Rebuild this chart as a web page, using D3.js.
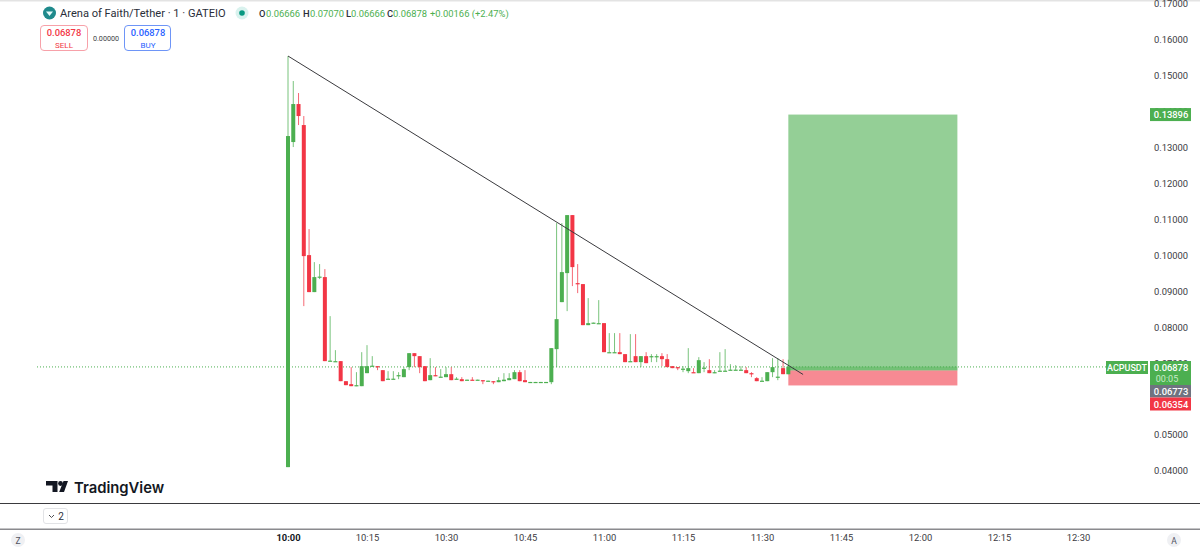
<!DOCTYPE html>
<html><head><meta charset="utf-8">
<script src="https://cdn.jsdelivr.net/npm/d3@7/dist/d3.min.js"></script>
<style>html,body{margin:0;padding:0;background:#fff;overflow:hidden}svg{display:block}text{font-family:Roboto,sans-serif}</style>
</head><body><svg id="c" width="1200" height="552"></svg>
<script>
const opens=[.0408,.13131,.14189,.13604,.09983,.08953,.09371,.09371,.07031,.07017,.07031,.06473,.0639,.06334,.06334,.06696,.06891,.06891,.0678,.06529,.06529,.06613,.06585,.06864,.07253,.0717,.06891,.06501,.06641,.06585,.06585,.06668,.06529,.06529,.06501,.06515,.06501,.06501,.06473,.06473,.06445,.06473,.06501,.06529,.06724,.06501,.06445,.06445,.06445,.06445,.06445,.07365,.08674,.09482,.11097,.09203,.09176,.08033,.08089,.08075,.08089,.07267,.07267,.07281,.07226,.07017,.0717,.07003,.0717,.07156,.07156,.0717,.07086,.06891,.06864,.06808,.06752,.06724,.06696,.06836,.0678,.06696,.06752,.06752,.0678,.0678,.0678,.0678,.06696,.06557,.06473,.06473,.06724,.06585,.06836,.06666];
const highs=[.15526,.1483,.14496,.13855,.10708,.09788,.09733,.09593,.08284,.07337,.07031,.06473,.06864,.06724,.07281,.07476,.0717,.06891,.0678,.06752,.06752,.06724,.06864,.07253,.07253,.0717,.06891,.07114,.06864,.06808,.06864,.06864,.06585,.06585,.06515,.06585,.06515,.06501,.06487,.06473,.06585,.06696,.06696,.0678,.0678,.0678,.06452,.06452,.06452,.06452,.07393,.10875,.10875,.11097,.11097,.09733,.09176,.08786,.08103,.0873,.08089,.07811,.07811,.07811,.07226,.07783,.07783,.0717,.07281,.07226,.07226,.07253,.07226,.06891,.06864,.06891,.07393,.06836,.07142,.07003,.07086,.0678,.07281,.07365,.06947,.06919,.06891,.06864,.06724,.06585,.06585,.06724,.07114,.07114,.07086,.0707];
const lows=[.0408,.12992,.13604,.08563,.08953,.08953,.09315,.07031,.07031,.07017,.06473,.06362,.06334,.06334,.06334,.06696,.06891,.0678,.06473,.06529,.06529,.06529,.06585,.0678,.06864,.06696,.06473,.06501,.06613,.06585,.06585,.06501,.06529,.06473,.06501,.06501,.06501,.0639,.06473,.0639,.06445,.06473,.06501,.06529,.06473,.06445,.06445,.06445,.06445,.06445,.0639,.06864,.08674,.08423,.0912,.08925,.08033,.08033,.08089,.08075,.07281,.07267,.07267,.07226,.07003,.07017,.07003,.06864,.06975,.07003,.07003,.06891,.06864,.06836,.0678,.06724,.06696,.0671,.06696,.06724,.06696,.06696,.06752,.06752,.0678,.0678,.0678,.06696,.06585,.06473,.06473,.06473,.06585,.06501,.06668,.06666];
const closes=[.13298,.14189,.13855,.09955,.08953,.09371,.09385,.07031,.07045,.07031,.06473,.06362,.06334,.06362,.06891,.06891,.06905,.06864,.06473,.06543,.06543,.06641,.06808,.07253,.0717,.06864,.06473,.06641,.06613,.06599,.06668,.06501,.06543,.06473,.06515,.06501,.06515,.06473,.06487,.0644,.06501,.06515,.06557,.06724,.06473,.06445,.06452,.06452,.06452,.06452,.07393,.082,.0951,.11097,.09649,.09175,.08033,.08089,.08103,.08089,.07281,.07281,.07281,.07226,.07003,.07031,.07003,.0717,.06975,.0717,.0717,.07086,.06864,.06836,.06836,.06822,.06836,.0671,.07058,.0685,.06696,.06724,.06766,.06766,.06794,.06794,.06794,.06696,.06682,.06473,.06487,.06724,.06864,.06599,.06668,.06878];

const priceTicks=[.17,.16,.15,.14,.13,.12,.11,.10,.09,.08,.07,.05,.04];
const timeMinutes=[0,15,30,45,60,75,90,105,120,135,150];
const timeLabels=["10:00","10:15","10:30","10:45","11:00","11:15","11:30","11:45","12:00","12:15","12:30"];
const trendMinutes=[0,97.8], trendPrices=[.15526,.0666];
const posMinutes=[95,127.1];
const posTarget=.13896, posEntry=.06773, posStop=.06354, lastClose=.06878;

const W=1200,H=552;
const FONT='Roboto,sans-serif';
const x=d3.scaleLinear().domain([0,150]).range([288,1078]);
const y=d3.scaleLinear().domain([.16,.04]).range([39,470]);
const svg=d3.select("#c");
const GREEN="#4caf50",RED="#f23645";

svg.append("defs").append("clipPath").attr("id","plot").append("rect").attr("x",0).attr("y",0).attr("width",W).attr("height",503);

svg.append("rect").attr("width",W).attr("height",1.5).attr("fill","#e3e3e3");

// last price dotted line
svg.append("line").attr("x1",37).attr("x2",1106).attr("y1",y(lastClose)+.3).attr("y2",y(lastClose)+.3)
  .attr("stroke",GREEN).attr("stroke-width",1).attr("stroke-dasharray","1 2");

// position tool
const px0=x(posMinutes[0]),px1=x(posMinutes[1]);
svg.append("rect").attr("x",px0).attr("width",px1-px0).attr("y",y(posTarget)).attr("height",y(posEntry)-y(posTarget)).attr("fill",GREEN).attr("fill-opacity",.6);
svg.append("rect").attr("x",px0).attr("width",px1-px0).attr("y",y(posEntry)).attr("height",y(posStop)-y(posEntry)).attr("fill",RED).attr("fill-opacity",.58);
svg.append("rect").attr("x",px0).attr("width",px1-px0).attr("y",y(lastClose)).attr("height",y(posEntry)-y(lastClose)).attr("fill",GREEN).attr("fill-opacity",.45);

// candles
const idx=d3.range(opens.length);
const g=svg.append("g").attr("clip-path","url(#plot)");
g.selectAll("line.w").data(idx).join("line").attr("class","w")
  .attr("x1",i=>x(i)).attr("x2",i=>x(i)).attr("y1",i=>y(highs[i])).attr("y2",i=>y(lows[i]))
  .attr("stroke",i=>closes[i]>=opens[i]?GREEN:RED).attr("stroke-width",1).attr("stroke-opacity",.75);
g.selectAll("rect.b").data(idx).join("rect").attr("class","b")
  .attr("x",i=>x(i)-2).attr("width",4)
  .attr("y",i=>Math.min(y(opens[i]),y(closes[i])))
  .attr("height",i=>Math.max(1.2,Math.abs(y(opens[i])-y(closes[i]))))
  .attr("fill",i=>closes[i]>=opens[i]?GREEN:RED);

// trend line
svg.append("line").attr("x1",x(trendMinutes[0])).attr("y1",y(trendPrices[0])).attr("x2",x(trendMinutes[1])).attr("y2",y(trendPrices[1]))
  .attr("stroke","#3a3a3e").attr("stroke-width",1);

// price axis
const yAxis=d3.axisRight(y).tickValues(priceTicks).tickSize(0).tickPadding(0).tickFormat(d3.format(".5f"));
const ya=svg.append("g").attr("transform","translate(1171,0.8)").call(yAxis);
ya.select(".domain").remove();
ya.selectAll("text").attr("text-anchor","middle").attr("fill","#3b3b3f").attr("font-size",9.4).style("font-family",FONT);

// time axis
const xAxis=d3.axisBottom(x).tickValues(timeMinutes).tickSize(0).tickPadding(0).tickFormat((d,i)=>timeLabels[i]);
const xa=svg.append("g").attr("transform","translate(0,534.8)").call(xAxis);
xa.select(".domain").remove();
xa.selectAll("text").attr("font-size",9.4).style("font-family",FONT)
  .attr("font-weight",(d,i)=>i===0?700:400).attr("fill",(d,i)=>i===0?"#131722":"#3b3b3f");

// axis labels
function tag(x0,y0,w,h,fill){svg.append("rect").attr("x",x0).attr("y",y0).attr("width",w).attr("height",h).attr("fill",fill);}
function txt(s,xp,yp,o={}){return svg.append("text").text(s).attr("x",xp).attr("y",yp).attr("font-size",o.size||9.4).attr("fill",o.fill||"#fff").attr("text-anchor",o.anchor||"middle").attr("font-weight",o.weight||400).style("font-family",o.font||FONT);}
tag(1150,y(posTarget)-6.5,41,13,GREEN);txt("0.13896",1171,y(posTarget)+3.5,{weight:500});
tag(1106,361,42,13,GREEN);txt("ACPUSDT",1127,371,{size:9,weight:500});
tag(1150,361,41,24,GREEN);txt("0.06878",1171,371,{weight:500});txt("00:05",1167,382,{fill:"#c9ecca",size:9});
tag(1150,385,41,12.5,"#6f7380");txt("0.06773",1171,394.5,{weight:500});
tag(1150,397.5,41,13,RED);txt("0.06354",1171,407.5,{weight:500});

// header
svg.append("circle").attr("cx",49.5).attr("cy",13).attr("r",6.5).attr("fill","#1f8a8c");
svg.append("path").attr("d","M46 11.5 L53 11.5 L49.5 16 Z").attr("fill","#e6fbfb");
txt("Arena of Faith/Tether · 1 · GATEIO",60,17,{anchor:"start",size:11.1,fill:"#2a2e39"});
svg.append("circle").attr("cx",242).attr("cy",13).attr("r",6.5).attr("fill","#d9f2ee");
svg.append("circle").attr("cx",242).attr("cy",13).attr("r",2.8).attr("fill","#089981");
const ohlc=[["O","0.06666",259,266],["H","0.07070",303,310],["L","0.06666",346,351],["C","0.06878",387,393]];
ohlc.forEach(([a,b,xx,xv])=>{txt(a,xx,17,{anchor:"start",size:9.4,fill:"#2a2e39",weight:500});txt(b,xv,17,{anchor:"start",size:9.4,fill:GREEN});});
txt("+0.00166 (+2.47%)",430,17,{anchor:"start",size:9.4,fill:GREEN});

svg.append("rect").attr("x",40.5).attr("y",25.5).attr("width",47).attr("height",25).attr("rx",3.5).attr("fill","#fff").attr("stroke","#f7a1a9");
txt("0.06878",64,36,{fill:RED,size:9.4,weight:500});txt("SELL",64,47.5,{fill:RED,size:8});
txt("0.00000",106,41,{fill:"#3b3b3f",size:7.2});
svg.append("rect").attr("x",124.5).attr("y",25.5).attr("width",46).attr("height",25).attr("rx",3.5).attr("fill","#fff").attr("stroke","#6e95f7");
txt("0.06878",148,36,{fill:"#2962ff",size:9.4,weight:500});txt("BUY",148,47.5,{fill:"#2962ff",size:8});

// logo
svg.append("path").attr("fill","#131722").attr("d","M46 481h11.5v11h-5v-6.5H46z");
svg.append("circle").attr("cx",60.5).attr("cy",483.5).attr("r",2.4).attr("fill","#131722");
svg.append("path").attr("fill","#131722").attr("d","M63.5 481 h4.5 L64 492 h-4.8z");
txt("TradingView",74,493,{anchor:"start",size:14.8,weight:600,fill:"#131722",font:"Inter,sans-serif"});

// panes
svg.append("rect").attr("x",0).attr("y",503).attr("width",W).attr("height",1).attr("fill","#3a3a3e");
svg.append("rect").attr("x",0).attr("y",528.5).attr("width",W).attr("height",1.5).attr("fill","#8a8a8e");
svg.append("rect").attr("x",43.5).attr("y",508.5).attr("width",24).attr("height",15).attr("rx",2.5).attr("fill","#fff").attr("stroke","#e2e3e6");
svg.append("path").attr("d","M49 515l2.5 2.5 2.5-2.5").attr("fill","none").attr("stroke","#3b3b3f").attr("stroke-width",.9);
txt("2",61,520,{fill:"#2a2e39",size:10});
svg.append("circle").attr("cx",18).attr("cy",540).attr("r",7).attr("fill","#eff0f3");
txt("Z",18,543.5,{fill:"#50535e",size:8.5});
svg.append("circle").attr("cx",1174).attr("cy",540).attr("r",7).attr("fill","#eff0f3");
txt("A",1174,543.5,{fill:"#50535e",size:8.5});
</script></body></html>
